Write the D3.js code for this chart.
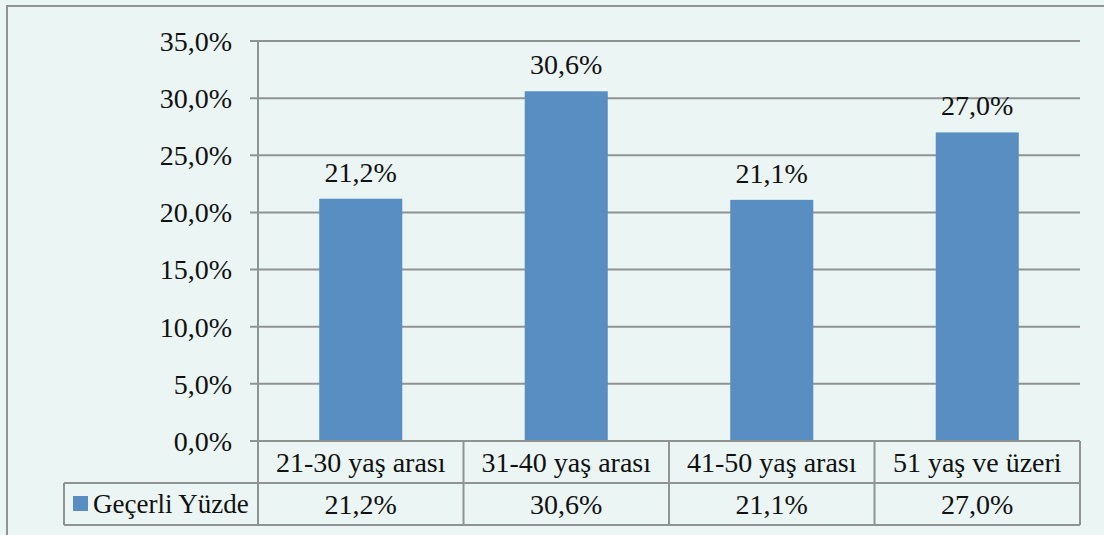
<!DOCTYPE html>
<html>
<head>
<meta charset="utf-8">
<script src="https://cdn.jsdelivr.net/npm/d3@7"></script>
<style>
  html, body { margin: 0; padding: 0; background: #eaf5f4; }
  text { font-family: 'Liberation Serif', serif; fill: #111; }
</style>
</head>
<body>
<div id="viz"></div>
<script>
const categories = ['21-30 yaş arası', '31-40 yaş arası', '41-50 yaş arası', '51 yaş ve üzeri'];
const values = [21.2, 30.6, 21.1, 27.0];
const seriesName = 'Geçerli Yüzde';
const yTicks = [0, 5, 10, 15, 20, 25, 30, 35];

const W = 1104, H = 535;
const margin = {top: 41, right: 24, bottom: 94, left: 258};
const width = W - margin.left - margin.right;
const height = H - margin.top - margin.bottom;
const rowH = 42;
const gridColor = '#8f9493';
const fs = '28px';
const fmt = v => v.toFixed(1).replace('.', ',') + '%';

const svg = d3.select('#viz')
    .append('svg')
    .attr('width', W)
    .attr('height', H);

// outer chart border
svg.append('rect')
    .attr('x', 7).attr('y', 6)
    .attr('width', W + 10).attr('height', H + 10)
    .attr('fill', '#eaf5f4')
    .attr('stroke', '#8f9493')
    .attr('stroke-width', 2);

const g = svg.append('g')
    .attr('transform', `translate(${margin.left},${margin.top})`);

const x = d3.scaleBand()
    .domain(categories)
    .range([0, width]);

const y = d3.scaleLinear()
    .domain([0, 35])
    .range([height, 0]);

// grid lines
g.selectAll('.grid')
    .data(yTicks)
    .join('line')
    .attr('x1', -8).attr('x2', width)
    .attr('y1', d => y(d)).attr('y2', d => y(d))
    .attr('stroke', gridColor)
    .attr('stroke-width', 2);

g.append('line')
    .attr('x1', 0).attr('x2', 0)
    .attr('y1', 0).attr('y2', height)
    .attr('stroke', gridColor)
    .attr('stroke-width', 2);

// y axis labels
g.selectAll('.ylab')
    .data(yTicks)
    .join('text')
    .attr('x', -26)
    .attr('y', d => y(d))
    .attr('dy', '0.35em')
    .attr('text-anchor', 'end')
    .style('font-size', fs)
    .text(fmt);

// bars
const barW = x.bandwidth() * 0.404;
g.selectAll('.bar')
    .data(values)
    .join('rect')
    .attr('x', (d, i) => x(categories[i]) + (x.bandwidth() - barW) / 2)
    .attr('y', d => y(d))
    .attr('width', barW)
    .attr('height', d => height - y(d))
    .attr('fill', '#588ec2');

g.selectAll('.val')
    .data(values)
    .join('text')
    .attr('x', (d, i) => x(categories[i]) + x.bandwidth() / 2)
    .attr('y', d => y(d) - 17)
    .attr('text-anchor', 'middle')
    .style('font-size', fs)
    .text(fmt);

// data table
const tableLeft = 64 - margin.left;
const t = g.append('g').attr('transform', `translate(0,${height})`);

t.append('line').attr('x1', 0).attr('x2', width).attr('y1', 0).attr('y2', 0)
    .attr('stroke', gridColor).attr('stroke-width', 2);
t.append('line').attr('x1', tableLeft).attr('x2', width).attr('y1', rowH).attr('y2', rowH)
    .attr('stroke', gridColor).attr('stroke-width', 2);
t.append('line').attr('x1', tableLeft).attr('x2', width).attr('y1', rowH * 2).attr('y2', rowH * 2)
    .attr('stroke', gridColor).attr('stroke-width', 2);
t.append('line').attr('x1', tableLeft).attr('x2', tableLeft).attr('y1', rowH).attr('y2', rowH * 2)
    .attr('stroke', gridColor).attr('stroke-width', 2);

const edges = categories.map(c => x(c)).concat([width]);
t.selectAll('.vline')
    .data(edges)
    .join('line')
    .attr('x1', d => d).attr('x2', d => d)
    .attr('y1', 0).attr('y2', rowH * 2)
    .attr('stroke', gridColor).attr('stroke-width', 2);

t.selectAll('.cat')
    .data(categories)
    .join('text')
    .attr('x', d => x(d) + x.bandwidth() / 2)
    .attr('y', rowH / 2)
    .attr('dy', '0.35em')
    .attr('text-anchor', 'middle')
    .style('font-size', fs)
    .text(d => d);

t.selectAll('.tv')
    .data(values)
    .join('text')
    .attr('x', (d, i) => x(categories[i]) + x.bandwidth() / 2)
    .attr('y', rowH * 1.5)
    .attr('dy', '0.35em')
    .attr('text-anchor', 'middle')
    .style('font-size', fs)
    .text(fmt);

// legend key
t.append('rect')
    .attr('x', tableLeft + 9)
    .attr('y', rowH + 13)
    .attr('width', 15).attr('height', 15)
    .attr('fill', '#588ec2');

t.append('text')
    .attr('x', tableLeft + 29)
    .attr('y', rowH * 1.5)
    .attr('dy', '0.35em')
    .style('font-size', '27px')
    .text(seriesName);
</script>
</body>
</html>
